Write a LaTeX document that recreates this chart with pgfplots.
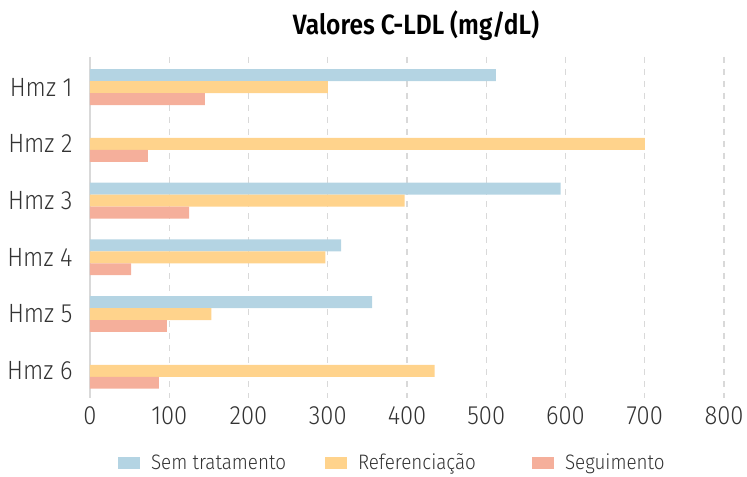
\documentclass[border=0pt]{standalone}
\usepackage{fontspec}
\setmainfont{Fira Sans Light}[FakeStretch=0.9]
\newfontfamily\titlefont{Fira Sans SemiBold}[FakeStretch=0.88]
\usepackage{pgfplots}
\pgfplotsset{compat=1.18}
\definecolor{cblue}{HTML}{B4D4E3}
\definecolor{corange}{HTML}{FFD38C}
\definecolor{csalmon}{HTML}{F5AF9B}
\definecolor{ctext}{HTML}{333333}
\begin{document}
\begin{tikzpicture}
\path[use as bounding box] (-90bp,-79bp) rectangle (657bp,398bp);
\begin{axis}[
  at={(0,0)}, anchor=south west,
  scale only axis, width=634bp, height=341bp,
  xbar, y dir=reverse,
  xmin=0, xmax=800, ymin=-0.53, ymax=5.48,
  xtick={0,100,...,800},
  ytick={0,1,2,3,4,5},
  yticklabels={Hmz 1,Hmz 2,Hmz 3,Hmz 4,Hmz 5,Hmz 6},
  axis lines*=left,
  x axis line style={draw=none},
  y axis line style={draw=black!15, line width=2pt},
  major tick length=0pt,
  xmajorgrids,
  grid style={draw=black!15, line width=1.2pt, dash pattern=on 6bp off 6bp},
  /pgf/number format/assume math mode=true,
  tick label style={font=\fontsize{26.5}{30}\selectfont, text=ctext},
  xticklabel style={yshift=-5bp},
  yticklabel style={xshift=-14bp},
  bar width=0.211,
  legend columns=3,
  legend style={at={(0.534,-0.19)}, anchor=center, draw=none,
    font=\fontsize{21}{24}\selectfont, text=ctext,
    nodes={inner xsep=0pt, inner ysep=1bp},
    /tikz/every odd column/.append style={column sep=11bp},
    /tikz/every even column/.append style={column sep=0bp}},
  legend cell align=left,
  legend image code/.code={\fill[#1] (0bp,-6bp) rectangle (22bp,6bp);},
]
\addplot[fill=cblue, draw=none, bar shift=-0.211] coordinates {(512,0) (594,2) (317,3) (356,4)};
\addplot[fill=corange, draw=none, bar shift=0] coordinates {(300,0) (700,1) (397,2) (297,3) (153,4) (435,5)};
\addplot[fill=csalmon, draw=none, bar shift=0.211] coordinates {(145,0) (73,1) (125,2) (52,3) (97,4) (87,5)};
\legend{\makebox[174bp][l]{Sem tratamento},\makebox[174bp][l]{Referenciação},\makebox[174bp][l]{Seguimento}}
\end{axis}
\node[font=\titlefont\fontsize{28}{32}\selectfont, text=black] at (326bp,372bp) {Valores C-LDL (mg/dL)};
\end{tikzpicture}
\end{document}
